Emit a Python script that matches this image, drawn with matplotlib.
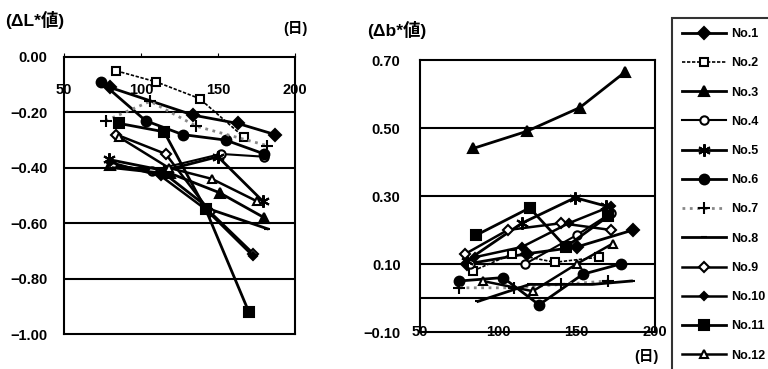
import matplotlib
matplotlib.use('Agg')
import matplotlib.pyplot as plt
from matplotlib.lines import Line2D

plt.rcParams['font.family'] = ['Liberation Sans', 'Noto Sans CJK JP', 'DejaVu Sans']
plt.rcParams['font.weight'] = 'bold'

labels = ['No.1', 'No.2', 'No.3', 'No.4', 'No.5', 'No.6',
          'No.7', 'No.8', 'No.9', 'No.10', 'No.11', 'No.12']

# days / dL* values per sample
dL_days = [
    [80, 134, 163, 187],
    [84, 110, 138, 167],
    [80, 119, 151, 180],
    [81, 107, 152, 180],
    [79, 115, 150, 179],
    [74, 103, 127, 155, 180],
    [77, 106, 136, 182],
    [82, 115, 145, 182],
    [84, 116, 145, 173],
    [80, 113, 142, 173],
    [86, 115, 142, 170],
    [86, 118, 146, 175],
]
dL_vals = [
    [-0.11, -0.21, -0.24, -0.28],
    [-0.05, -0.09, -0.15, -0.29],
    [-0.39, -0.42, -0.49, -0.58],
    [-0.39, -0.41, -0.35, -0.36],
    [-0.37, -0.41, -0.36, -0.52],
    [-0.09, -0.23, -0.28, -0.30, -0.35],
    [-0.23, -0.16, -0.25, -0.32],
    [-0.40, -0.42, -0.55, -0.62],
    [-0.28, -0.35, -0.56, -0.71],
    [-0.38, -0.43, -0.55, -0.72],
    [-0.24, -0.27, -0.55, -0.92],
    [-0.29, -0.40, -0.44, -0.52],
]

db_days = [
    [80, 118, 150, 186],
    [84, 109, 136, 164],
    [84, 118, 152, 181],
    [82, 117, 150, 172],
    [80, 115, 149, 169],
    [75, 103, 126, 154, 178],
    [75, 110, 140, 170],
    [87, 120, 160, 185],
    [79, 106, 140, 172],
    [85, 115, 145, 172],
    [86, 120, 143, 170],
    [90, 122, 150, 173],
]
db_vals = [
    [0.10, 0.13, 0.15, 0.20],
    [0.08, 0.13, 0.105, 0.12],
    [0.44, 0.49, 0.56, 0.665],
    [0.10, 0.10, 0.185, 0.25],
    [0.11, 0.22, 0.295, 0.27],
    [0.05, 0.06, -0.02, 0.07, 0.10],
    [0.03, 0.03, 0.04, 0.05],
    [-0.01, 0.04, 0.04, 0.05],
    [0.13, 0.20, 0.22, 0.20],
    [0.12, 0.15, 0.22, 0.27],
    [0.185, 0.265, 0.15, 0.24],
    [0.05, 0.02, 0.10, 0.16],
]

markers = ['D', 's', '^', 'o', (6, 2, 0), 'o', '+', '_', 'D', 'D', 's', '^']
fills = [True, False, True, False, True, True, True, True, False, True, True, False]
msizes = [6, 6, 7, 6, 9, 7, 9, 5, 5, 4, 7, 6]
colors = ['black'] * 6 + ['#888888'] + ['black'] * 5
styles = ['-', (0, (2, 1)), '-', '-', '-', '-', ':', '-', '-', '-', '-', '-']
widths = [2, 1.2, 2, 1.5, 2, 2, 2, 2, 1.8, 1.8, 2, 1.8]

fig = plt.figure(figsize=(7.68, 3.69), dpi=100)
axL = fig.add_axes([64/768, 1-334/369, 231/768, 277/369])
axR = fig.add_axes([420/768, 1-332/369, 235/768, 272/369])


def draw(ax, days, vals):
    for i in range(12):
        ax.plot(days[i], vals[i], color=colors[i], ls=styles[i], lw=widths[i],
                marker=markers[i], ms=msizes[i], mew=1.5,
                mfc='black' if fills[i] else 'white', mec='black', clip_on=False)


draw(axL, dL_days, dL_vals)
draw(axR, db_days, db_vals)

# left panel
axL.set_xlim(50, 200)
axL.set_ylim(-1.0, 0.0)
axL.set_yticks([0.0, -0.2, -0.4, -0.6, -0.8, -1.0])
axL.set_yticklabels(['0.00', '\u22120.20', '\u22120.40', '\u22120.60', '\u22120.80', '\u22121.00'])
axL.set_xticks([50, 100, 150, 200])
axL.xaxis.tick_top()
axL.tick_params(axis='x', direction='out', length=3, pad=-32, labelsize=10.5)
axL.tick_params(axis='y', length=0, pad=12, labelsize=10.5)
for y in [-0.2, -0.4, -0.6, -0.8]:
    axL.axhline(y, color='black', lw=1.5, zorder=0)

# right panel
axR.set_xlim(50, 200)
axR.set_ylim(-0.10, 0.70)
axR.set_yticks([0.70, 0.50, 0.30, 0.10, -0.10])
axR.set_yticklabels(['0.70', '0.50', '0.30', '0.10', '\u22120.10'])
axR.set_xticks([50, 100, 150, 200])
axR.tick_params(axis='x', length=0, pad=-5, labelsize=10.5)
axR.tick_params(axis='y', length=0, pad=14, labelsize=10.5)
for y in [0.5, 0.3, 0.1, 0.0]:
    axR.axhline(y, color='black', lw=1.5, zorder=0)

for ax in (axL, axR):
    for s in ax.spines.values():
        s.set_linewidth(1.5)

fig.text(5/768, 1-20/369, '(\u0394L*\u5024)', fontsize=12.5, va='center')
fig.text(283/768, 1-28/369, '(\u65e5)', fontsize=10.5, va='center')
fig.text(367/768, 1-30/369, '(\u0394b*\u5024)', fontsize=12.5, va='center')
fig.text(634/768, 1-357/369, '(\u65e5)', fontsize=10.5, va='center')

handles = [Line2D([], [], color=colors[i], ls=styles[i], lw=widths[i], marker=markers[i],
                  ms=msizes[i], mew=1.5, mfc='black' if fills[i] else 'white', mec='black')
           for i in range(12)]
leg = fig.legend(handles, labels, loc='upper left', bbox_to_anchor=(672/768, 1-18/369),
                 borderaxespad=0, frameon=True, fancybox=False, edgecolor='black',
                 handlelength=3.5, labelspacing=1.38, fontsize=9, borderpad=0.8,
                 handletextpad=0.4)
leg.get_frame().set_linewidth(1.5)
leg.set_zorder(10)

fig.savefig('out.png', dpi=100)
